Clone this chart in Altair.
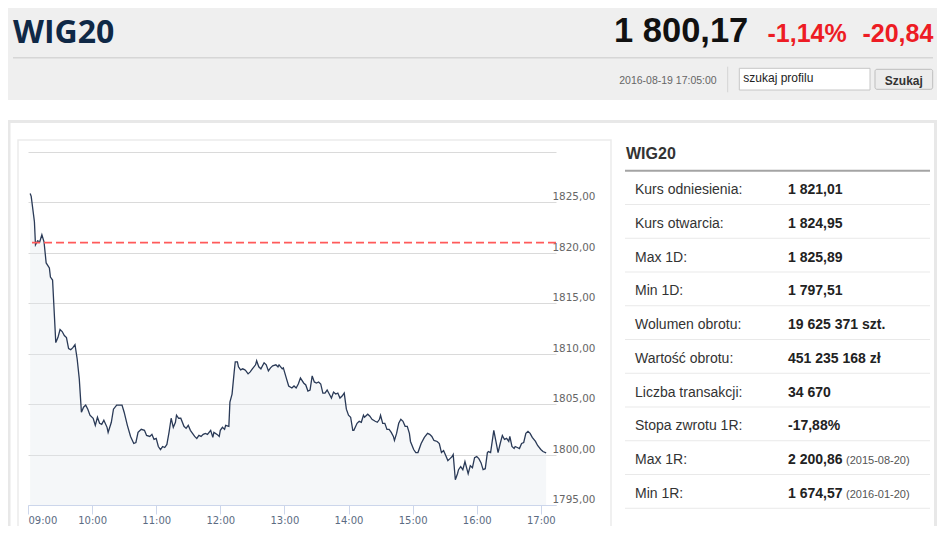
import altair as alt
import pandas as pd

# ---------------- data ----------------
TITLE = "WIG20"
LAST_VALUE = "1 800,17"
CHANGE_PCT = "-1,14%"
CHANGE_ABS = "-20,84"
TIMESTAMP = "2016-08-19 17:05:00"
SEARCH_PLACEHOLDER = "szukaj profilu"
SEARCH_BUTTON = "Szukaj"

REF_LEVEL = 1821.01  # Kurs odniesienia

TIMES = ["09:02", "09:03", "09:06", "09:07", "09:09", "09:11", "09:13", "09:15", "09:17", "09:20",
         "09:21", "09:23", "09:26", "09:28", "09:30", "09:32", "09:34", "09:36", "09:38", "09:40",
         "09:42", "09:44", "09:46", "09:48", "09:50", "09:52", "09:54", "09:56", "09:58", "10:01",
         "10:03", "10:05", "10:07", "10:09", "10:11", "10:14", "10:15", "10:18", "10:20", "10:23",
         "10:28", "10:30", "10:33", "10:36", "10:39", "10:41", "10:43", "10:46", "10:49", "10:51",
         "10:54", "10:56", "10:58", "11:00", "11:02", "11:04", "11:06", "11:08", "11:10", "11:12",
         "11:14", "11:16", "11:18", "11:19", "11:21", "11:23", "11:26", "11:28", "11:30", "11:32",
         "11:34", "11:36", "11:38", "11:40", "11:42", "11:44", "11:46", "11:48", "11:51", "11:53",
         "11:54", "11:57", "11:59", "12:00", "12:02", "12:04", "12:05", "12:08", "12:09", "12:11",
         "12:13", "12:14", "12:16", "12:17", "12:19", "12:21", "12:23", "12:24", "12:26", "12:28",
         "12:30", "12:33", "12:34", "12:36", "12:38", "12:41", "12:43", "12:45", "12:47", "12:49",
         "12:52", "12:54", "12:55", "12:58", "12:59", "13:02", "13:04", "13:07", "13:09", "13:11",
         "13:13", "13:15", "13:18", "13:20", "13:22", "13:24", "13:26", "13:28", "13:30", "13:32",
         "13:34", "13:36", "13:38", "13:40", "13:42", "13:44", "13:46", "13:48", "13:50", "13:52",
         "13:54", "13:56", "13:58", "14:00", "14:02", "14:04", "14:05", "14:08", "14:10", "14:12",
         "14:14", "14:15", "14:18", "14:20", "14:22", "14:25", "14:27", "14:29", "14:30", "14:32",
         "14:34", "14:36", "14:38", "14:40", "14:42", "14:43", "14:45", "14:47", "14:49", "14:51",
         "14:53", "14:55", "14:57", "14:58", "15:01", "15:03", "15:05", "15:08", "15:11", "15:14",
         "15:16", "15:18", "15:20", "15:23", "15:25", "15:27", "15:29", "15:31", "15:33", "15:35",
         "15:37", "15:38", "15:40", "15:42", "15:43", "15:45", "15:47", "15:49", "15:51", "15:52",
         "15:54", "15:56", "15:58", "16:00", "16:02", "16:04", "16:06", "16:08", "16:10", "16:11",
         "16:13", "16:16", "16:18", "16:20", "16:22", "16:24", "16:26", "16:28", "16:30", "16:31",
         "16:33", "16:35", "16:36", "16:38", "16:40", "16:42", "16:44", "16:46", "16:48", "16:50",
         "16:52", "16:55", "16:57", "17:00", "17:02", "17:05"]

VALUES = [1825.89, 1825.6, 1823.1, 1820.8, 1821.2, 1821.1, 1821.8, 1821.1, 1819.0, 1818.5,
          1817.6, 1817.3, 1811.1, 1811.6, 1812.4, 1812.2, 1811.8, 1811.6, 1810.5, 1810.4,
          1810.6, 1810.9, 1809.5, 1807.5, 1804.2, 1804.7, 1804.9, 1804.5, 1803.9, 1803.6,
          1802.9, 1803.7, 1803.1, 1803.0, 1803.4, 1802.7, 1802.2, 1803.2, 1804.5, 1804.9,
          1804.9, 1804.2, 1802.9, 1801.8, 1801.1, 1801.2, 1802.2, 1802.5, 1802.4, 1801.9,
          1801.8, 1802.0, 1801.5, 1801.6, 1800.8, 1800.5, 1800.8, 1800.7, 1801.0, 1802.2,
          1803.6, 1802.7, 1803.2, 1803.9, 1803.6, 1803.6, 1802.8, 1802.6, 1802.9, 1802.4,
          1802.1, 1801.8, 1801.6, 1801.9, 1801.8, 1802.0, 1802.1, 1802.0, 1802.4, 1801.7,
          1802.2, 1802.0, 1801.8, 1802.4, 1802.7, 1802.5, 1802.9, 1802.8, 1805.2, 1806.0,
          1808.2, 1809.2, 1809.2, 1808.7, 1808.4, 1808.5, 1808.4, 1808.3, 1808.0, 1808.2,
          1808.5, 1808.9, 1809.3, 1808.7, 1808.5, 1809.1, 1808.9, 1808.3, 1808.6, 1808.8,
          1808.9, 1808.7, 1808.9, 1808.5, 1808.6, 1807.5, 1806.8, 1806.6, 1806.8, 1806.6,
          1807.0, 1807.6, 1807.1, 1806.9, 1806.3, 1806.4, 1807.8, 1807.2, 1807.1, 1807.2,
          1807.0, 1806.1, 1806.1, 1806.4, 1806.0, 1805.6, 1806.2, 1806.0, 1806.1, 1805.6,
          1805.8, 1806.1, 1804.5, 1803.9, 1803.7, 1802.4, 1802.4, 1803.1, 1803.3, 1803.2,
          1803.9, 1803.7, 1804.0, 1803.8, 1803.5, 1803.3, 1803.2, 1803.5, 1803.9, 1803.1,
          1803.1, 1802.5, 1802.5, 1802.2, 1801.8, 1801.4, 1802.1, 1803.1, 1803.5, 1803.3,
          1802.8, 1802.8, 1802.1, 1801.3, 1800.5, 1800.2, 1800.2, 1801.1, 1801.7, 1802.1,
          1802.0, 1801.8, 1801.4, 1801.3, 1801.1, 1800.2, 1800.4, 1799.9, 1799.4, 1799.6,
          1799.8, 1800.0, 1797.51, 1798.1, 1798.5, 1798.8, 1798.5, 1799.3, 1798.5, 1798.1,
          1798.9, 1798.7, 1799.7, 1799.8, 1799.6, 1799.2, 1798.5, 1798.6, 1800.2, 1800.3,
          1800.2, 1802.4, 1801.3, 1800.2, 1801.1, 1801.9, 1801.5, 1801.6, 1801.3, 1801.8,
          1800.8, 1800.6, 1800.8, 1800.7, 1800.6, 1801.1, 1801.2, 1802.1, 1802.3, 1802.1,
          1801.7, 1801.3, 1800.9, 1800.5, 1800.3, 1800.17]

Y_TICKS = [1795, 1800, 1805, 1810, 1815, 1820, 1825, 1830]
X_TICKS = [9, 10, 11, 12, 13, 14, 15, 16, 17]

TABLE_LABELS = ["Kurs odniesienia:", "Kurs otwarcia:", "Max 1D:", "Min 1D:", "Wolumen obrotu:",
                "Wartość obrotu:", "Liczba transakcji:", "Stopa zwrotu 1R:", "Max 1R:", "Min 1R:"]
TABLE_VALUES = ["1 821,01", "1 824,95", "1 825,89", "1 797,51", "19 625 371 szt.",
                "451 235 168 zł", "34 670", "-17,88%", "2 200,86", "1 674,57"]
TABLE_NOTES = ["", "", "", "", "", "", "", "", "(2015-08-20)", "(2016-01-20)"]


def to_hours(t):
    h, m = t.split(":")
    return int(h) + int(m) / 60.0


series = pd.DataFrame({"t": [to_hours(t) for t in TIMES], "v": VALUES})
ref_df = pd.DataFrame({"v": [REF_LEVEL]})
table = pd.DataFrame({"row": list(range(len(TABLE_LABELS))), "label": TABLE_LABELS,
                      "value": TABLE_VALUES, "note": TABLE_NOTES})
one = pd.DataFrame({"k": [0]})

# ---------------- layout ----------------
W, H = 528, 353
PAD = {"left": 20, "top": 144, "right": 381, "bottom": 21}   # total 929 x 518
SANS = "Liberation Sans, Arial, sans-serif"


def box(x, x2, y, y2, **kw):
    return alt.Chart(one).mark_rect(**kw).encode(
        x=alt.value(x), x2=alt.value(x2), y=alt.value(y), y2=alt.value(y2))


def hline(x, x2, y, **kw):
    return alt.Chart(one).mark_rule(**kw).encode(x=alt.value(x), x2=alt.value(x2), y=alt.value(y))


def vline(x, y, y2, **kw):
    return alt.Chart(one).mark_rule(**kw).encode(x=alt.value(x), y=alt.value(y), y2=alt.value(y2))


def txt(s, x, y, **kw):
    return alt.Chart(one).mark_text(baseline="alphabetic", **kw).encode(
        x=alt.value(x), y=alt.value(y), text=alt.value(s))


RED = "#ed1c24"

decor = [
    box(-20, 909, -144, -52, color="#efefef"),
    hline(-15, 905, -94.3, color="#d6d6d6", strokeWidth=1.5),
    txt(TITLE, -15, -109.5, font="Open Sans", fontSize=32, fontWeight="bold", color="#0f2846", align="left"),
    txt(LAST_VALUE, 720.3, -109.7, font=SANS, fontSize=34.5, fontWeight="bold", color="#111111", align="right"),
    txt(CHANGE_PCT, 818.7, -110.3, font=SANS, fontSize=25, fontWeight="bold", color=RED, align="right"),
    txt(CHANGE_ABS, 905.3, -110.3, font=SANS, fontSize=25, fontWeight="bold", color=RED, align="right"),
    txt(TIMESTAMP, 688.7, -68, font=SANS, fontSize=10.5, color="#666666", align="right"),
    vline(699.7, -85.3, -59.7, color="#d4d4d4", strokeWidth=1),
    box(711.3, 842, -83.7, -62, color="#ffffff", stroke="#c6c6c6", strokeWidth=1),
    txt(SEARCH_PLACEHOLDER, 715.3, -69.7, font=SANS, fontSize=12, color="#222222", align="left"),
    box(847, 904.7, -82.7, -62.7, color="#ececec", stroke="#bdbdbd", strokeWidth=1, cornerRadius=2),
    txt(SEARCH_BUTTON, 875.8, -67, font=SANS, fontSize=12, fontWeight="bold", color="#333333", align="center"),
    # card and chart box outlines
    box(-19, 907.5, -30.5, 400, fillOpacity=0, stroke="#e8e8e8", strokeWidth=3),
    box(-10, 583, -12, 400, fillOpacity=0, stroke="#ebebeb", strokeWidth=1.5),
    # table header
    txt(TITLE, 598, 7.3, font=SANS, fontSize=16, fontWeight="bold", color="#333333", align="left"),
    hline(597, 902, 18.7, color="#a4a4a4", strokeWidth=2),
]

# ---------------- line chart ----------------
x_scale = alt.Scale(domain=[9, 17.237], nice=False, zero=False)
y_scale = alt.Scale(domain=[1795, 1830], nice=False, zero=False)

x_enc = alt.X("t:Q", scale=x_scale, axis=alt.Axis(
    values=X_TICKS, title=None, grid=False,
    labelExpr="(datum.value < 10 ? '0' : '') + datum.value + ':00'",
    tickSize=9, tickColor="#ccd6eb", domainColor="#ccd6eb", domainWidth=1,
    labelColor="#5b6b82", labelFont="DejaVu Sans", labelFontSize=10, labelPadding=1.5,
    labelFlush=True, labelBaseline="top"))

y_axis = alt.Axis(
    orient="right", values=Y_TICKS, title=None, domain=False, ticks=False,
    grid=True, gridColor="#dadada", gridWidth=1,
    labelExpr="datum.value >= 1830 ? '' : replace(format(datum.value, '.2f'), '.', ',')",
    labelPadding=-4, labelAlign="left", labelBaseline="alphabetic", labelOffset=-2.5,
    labelColor="#666666", labelFont="DejaVu Sans", labelFontSize=10.4)
y_enc = alt.Y("v:Q", scale=y_scale, axis=y_axis)

area = alt.Chart(series).mark_area(color="#e3e8ef", opacity=0.35).encode(
    x=x_enc, y=y_enc, y2=alt.datum(1795))
line = alt.Chart(series).mark_line(color="#2a3a57", strokeWidth=1.3).encode(
    x=x_enc, y=y_enc)
ref = alt.Chart(ref_df).mark_rule(color="#ff5a5a", strokeDash=[8, 4], strokeWidth=1.6).encode(
    y=y_enc)

price_chart = alt.layer(area, line, ref)

# ---------------- table ----------------
row_y = alt.Y("row:Q", scale=alt.Scale(domain=[0, 9], range=[42, 345.75], nice=False, zero=False), axis=None)

t_sep = alt.Chart(table).mark_rule(color="#e9e9e9", strokeWidth=1, yOffset=10.5).encode(
    x=alt.value(597), x2=alt.value(902), y=row_y)
t_lab = alt.Chart(table).mark_text(align="left", baseline="alphabetic", font=SANS, fontSize=14,
                                   color="#333333").encode(x=alt.value(607), y=row_y, text="label:N")
t_val = alt.Chart(table).mark_text(align="left", baseline="alphabetic", font=SANS, fontSize=14,
                                   fontWeight="bold", color="#222222").encode(
    x=alt.value(760), y=row_y, text="value:N")
t_note = alt.Chart(table).mark_text(align="left", baseline="alphabetic", font=SANS, fontSize=11,
                                    color="#555555").encode(x=alt.value(818), y=row_y, text="note:N")

chart = alt.layer(*decor, price_chart, t_sep, t_lab, t_val, t_note).resolve_scale(
    y="independent"
).properties(
    width=W, height=H, padding=PAD, autosize=alt.AutoSizeParams(type="none"), background="#ffffff"
).configure_view(strokeOpacity=0)

chart.save("out.html", embed_options={"renderer": "svg", "actions": False})
